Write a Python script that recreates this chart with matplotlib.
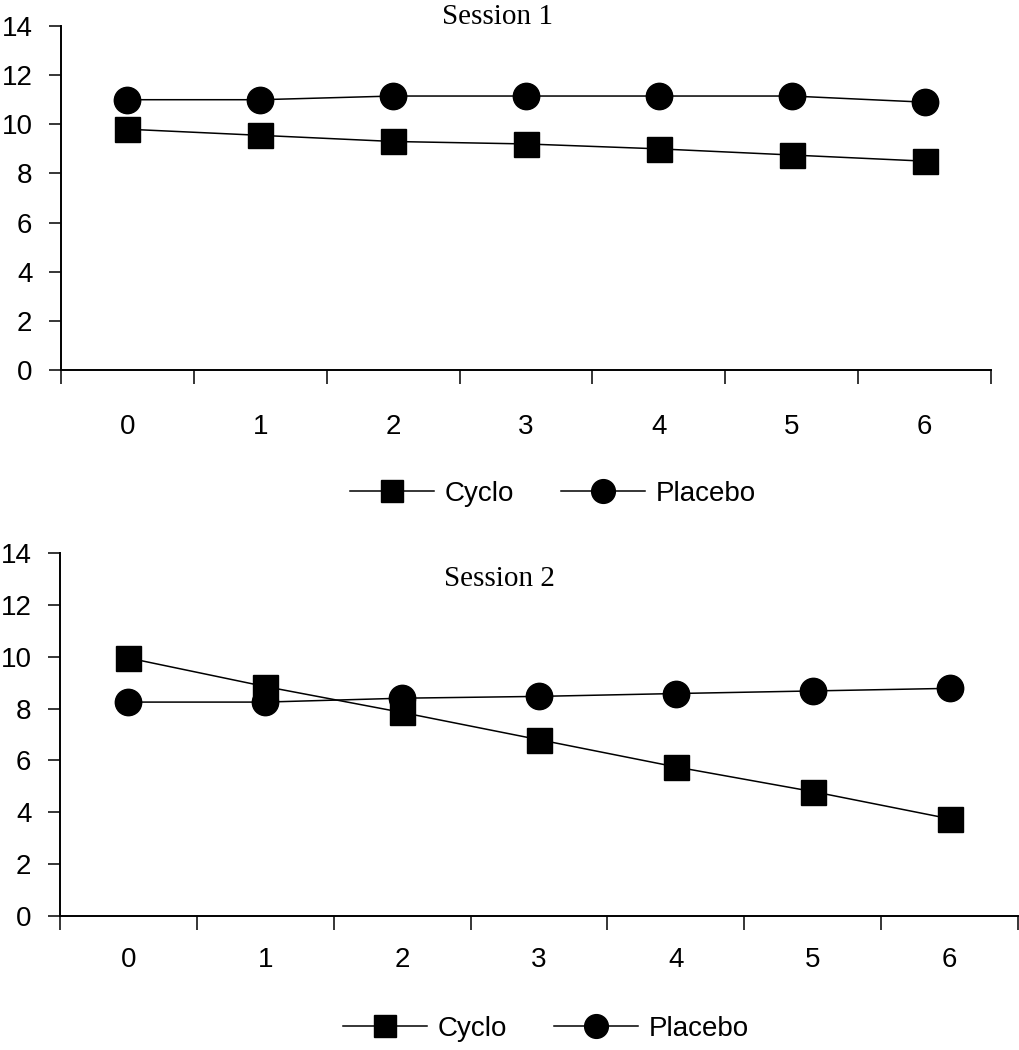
import numpy as np
import matplotlib
matplotlib.use("Agg")
import matplotlib.pyplot as plt

# time points and session means
timepoints = ["0", "1", "2", "3", "4", "5", "6"]
cyclo_s1 = [9.8, 9.55, 9.3, 9.2, 9.0, 8.75, 8.5]
placebo_s1 = [11.0, 11.0, 11.15, 11.15, 11.15, 11.15, 10.9]
cyclo_s2 = [9.95, 8.85, 7.85, 6.8, 5.75, 4.8, 3.75]
placebo_s2 = [8.25, 8.25, 8.4, 8.47, 8.58, 8.68, 8.78]

plt.rcParams['font.family'] = ['Liberation Sans', 'DejaVu Sans']

fig = plt.figure(figsize=(10.2, 10.5), dpi=100)
W, H = 1020.0, 1050.0


def make_panel(rect, cyclo, placebo, title, title_xy, xpad, legend_xy):
    left, top, right, bottom = rect
    ax = fig.add_axes([left / W, 1 - bottom / H, (right - left) / W, (bottom - top) / H])
    x = np.arange(len(timepoints))
    ax.plot(x, cyclo, color='black', lw=1.1, marker='s', ms=18, mfc='black', mec='black', label='Cyclo')
    ax.plot(x, placebo, color='black', lw=1.1, marker='o', ms=19, mfc='black', mec='black', label='Placebo')

    ax.set_xlim(-0.5, len(timepoints) - 0.5)
    ax.set_ylim(0, 14)
    ax.set_yticks(np.arange(0, 15, 2))
    ax.set_xticks(x)
    ax.set_xticklabels(timepoints)
    ax.set_xticks(np.arange(-0.5, len(timepoints), 1.0), minor=True)
    ax.tick_params(axis='x', which='major', length=0, pad=xpad, labelsize=20)
    ax.tick_params(axis='x', which='minor', length=10, width=1.1, direction='out')
    ax.tick_params(axis='y', length=8.6, width=1.1, pad=12, labelsize=20)

    for s in ['top', 'right']:
        ax.spines[s].set_visible(False)
    for s in ['left', 'bottom']:
        ax.spines[s].set_linewidth(1.4)

    fig.text(title_xy[0] / W, 1 - title_xy[1] / H, title, family='Liberation Serif',
             fontsize=21, ha='center', va='baseline')

    handles, labels = ax.get_legend_handles_labels()
    fig.legend(handles, labels, loc='center',
               bbox_to_anchor=(legend_xy[0] / W, 1 - legend_xy[1] / H), ncol=2,
               frameon=False, fontsize=20, handlelength=3.0, handletextpad=0.4,
               columnspacing=1.7, markerscale=0.9)
    return ax


make_panel((61, 26, 991, 370), cyclo_s1, placebo_s1, "Session 1", (498, 24), 32, (553, 494))
make_panel((60, 553, 1018, 916), cyclo_s2, placebo_s2, "Session 2", (499, 586), 22, (546, 1029))

fig.savefig("out.png", dpi=100)
